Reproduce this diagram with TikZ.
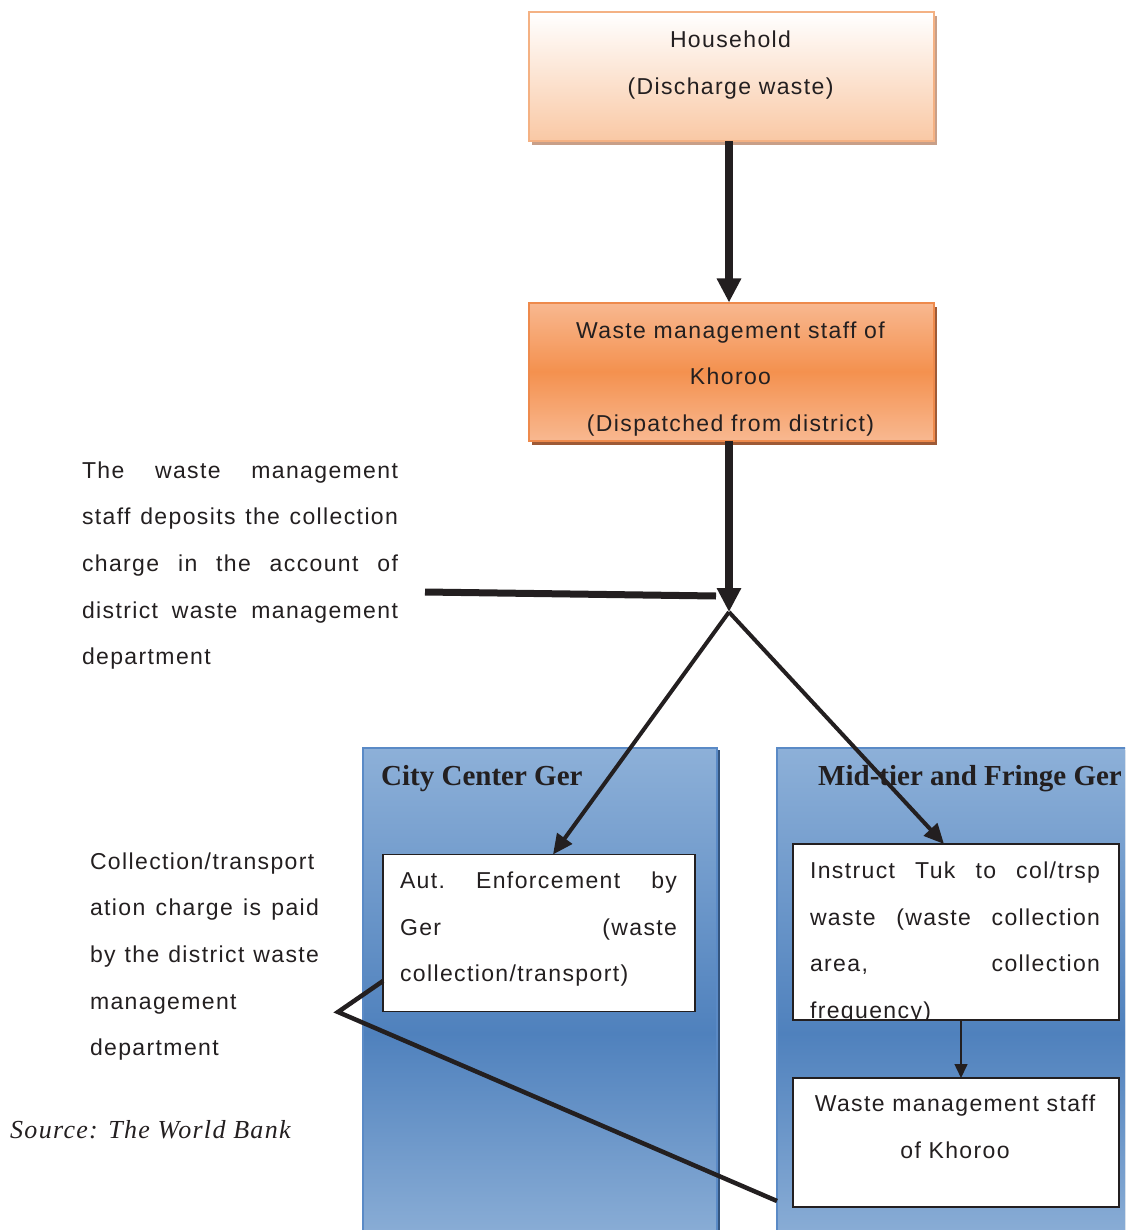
\documentclass[tikz,border=0pt]{standalone}
\usepackage{fontspec}
\usetikzlibrary{arrows.meta,shadows,calc}
\newfontfamily\dgsans{Liberation Sans}[LetterSpace=6]
\newfontfamily\dgserif{Liberation Serif}[LetterSpace=5]
\newfontfamily\dgtitle{Liberation Serif}
\definecolor{tc}{HTML}{231F20}
\definecolor{hhborder}{HTML}{F4B183}
\definecolor{hhbot}{HTML}{F9C8A4}
\definecolor{hhshadow}{HTML}{C89F88}
\definecolor{ksborder}{HTML}{EE8A4C}
\definecolor{kstop}{HTML}{F8B890}
\definecolor{ksmid}{HTML}{F4914F}
\definecolor{ksshadow}{HTML}{9E5A36}
\definecolor{ptop}{HTML}{8DB0D8}
\definecolor{pmid}{HTML}{4F81BD}
\definecolor{pbot}{HTML}{8BAED6}
\definecolor{pborder}{HTML}{5A8AC6}
\definecolor{pshadow}{HTML}{34557F}
\pgfdeclareverticalshading{panelshade}{100bp}{color(0bp)=(pbot); color(25bp)=(pbot); color(46bp)=(pmid); color(75bp)=(ptop); color(100bp)=(ptop)}
\newcommand\jln[2]{\leavevmode\hbox to #1{#2}}
\begin{document}
\begin{tikzpicture}[x=1pt,y=-1pt,
  txt/.style={font=\dgsans\fontsize{23}{46.7}\selectfont, text=tc, inner sep=0pt, outer sep=0pt},
  hhbox/.style={draw=hhborder, line width=2pt, top color=white, bottom color=hhbot,
    general shadow={fill=hhshadow, shadow xshift=3pt, shadow yshift=-4pt},
    inner sep=0pt, outer sep=0pt},
  ksbox/.style={draw=ksborder, line width=2pt, top color=kstop, bottom color=kstop, middle color=ksmid,
    general shadow={fill=ksshadow, shadow xshift=3pt, shadow yshift=-4pt},
    inner sep=0pt, outer sep=0pt},
  panel/.style={draw=pborder, line width=2pt, shading=panelshade,
    general shadow={fill=pshadow, shadow xshift=3pt, shadow yshift=-2pt},
    inner sep=0pt, outer sep=0pt},
  wbox/.style={draw=tc, line width=1.6pt, fill=white, inner sep=0pt, outer sep=0pt},
  ptitle/.style={font=\dgtitle\bfseries\fontsize{29}{32}\selectfont, text=tc, inner sep=0pt},
  bigarrow/.style={draw=tc, line width=8pt, -{Triangle[length=24pt,width=23pt]}},
  medarrow/.style={draw=tc, line width=4pt, -{Triangle[length=20pt,width=18pt]}},
  smallarrow/.style={draw=tc, line width=1.5pt, -{Triangle[length=14pt,width=13pt]}},
  thickline/.style={draw=tc, line width=7pt},
  brkline/.style={draw=tc, line width=4.5pt, line join=miter}
]
\useasboundingbox (0,0) rectangle (1125,1230);
\clip (0,0) rectangle (1125,1230);

% panels
\node[panel, minimum width=354pt, minimum height=492pt] (cc) at (540,994) {};
\node[panel, minimum width=370pt, minimum height=492pt] (mf) at (962,994) {};
\node[ptitle, anchor=base west] (cct) at (381,785) {City Center Ger};
\node[ptitle, anchor=base west] (mft) at (818,785) {Mid-tier and Fringe Ger};

% top boxes
\node[hhbox, minimum width=405pt, minimum height=129pt] (hh) at (731.5,77) {};
\node[txt, text width=400pt, align=center, anchor=base] (hht) at (730.5,48) {Household\\(Discharge waste)};
\node[ksbox, minimum width=405pt, minimum height=138pt] (ks) at (731.5,371.5) {};
\node[txt, text width=400pt, align=center, anchor=base] (kst) at (730.5,338) {Waste management staff of\\Khoroo\\(Dispatched from district)};

% deposit text
\node[txt, text width=316pt, align=left, anchor=base west] (dep) at (82,478) {%
\jln{316pt}{The\hfill waste\hfill management}\\
\jln{316pt}{staff\hfill deposits\hfill the\hfill collection}\\
\jln{316pt}{charge\hfill in\hfill the\hfill account\hfill of}\\
\jln{316pt}{district\hfill waste\hfill management}\\
department};

% collection text
\node[txt, text width=230pt, align=left, anchor=base west] (col) at (90,869) {%
\jln{229pt}{Collection/transport}\\
\jln{229pt}{ation\hfill charge\hfill is\hfill paid}\\
\jln{229pt}{by\hfill the\hfill district\hfill waste}\\
management\\
department};

% source
\node[font=\dgserif\itshape\fontsize{26}{30}\selectfont, text=tc, inner sep=0pt, anchor=base west] (src) at (10,1138) {Source: The World Bank};

% white boxes
\node[wbox, minimum width=312pt, minimum height=157pt] (aut) at (539,933) {};
\node[txt, text width=277pt, align=left, anchor=base west] (autt) at (400,888.3) {%
\jln{277pt}{Aut.\hfill Enforcement\hfill by}\\
\jln{277pt}{Ger\hfill (waste}\\
collection/transport)};

\node[wbox, minimum width=326pt, minimum height=176pt] (ins) at (956,932) {};
\begin{scope}
\clip (ins.south west) rectangle (ins.north east);
\node[txt, text width=290pt, align=left, anchor=base west] (inst) at (810,878.3) {%
\jln{290pt}{Instruct\hfill Tuk\hfill to\hfill col/trsp}\\
\jln{290pt}{waste\hfill (waste\hfill collection}\\
\jln{290pt}{area,\hfill collection}\\
frequency)};
\end{scope}
\draw[wbox, fill=none] (ins.south west) rectangle (ins.north east);

\node[wbox, minimum width=326pt, minimum height=129pt] (wms) at (956,1142.5) {};
\node[txt, text width=320pt, align=center, anchor=base] (wmst) at (955,1111.7) {Waste management staff\\of Khoroo};

% connectors
\coordinate (j) at (729,612);
\draw[bigarrow] (hh.south -| j) -- (ks.north -| j);
\draw[bigarrow] (ks.south -| j) -- (j);
\draw[medarrow] (j) -- ([xshift=14pt]aut.north);
\draw[medarrow] (j) -- ([xshift=-12pt]ins.north);
\draw[smallarrow] ([xshift=5pt]ins.south) -- ([xshift=5pt]wms.north);

\coordinate (hl) at (425,592);
\coordinate (hr) at (716,596);
\draw[thickline] (hl) -- (hr);

\coordinate (bs) at (383,981);
\coordinate (bv) at (338,1012);
\coordinate (be) at (777,1201);
\draw[brkline] (bs) -- (bv) -- (be);
\end{tikzpicture}
\end{document}
